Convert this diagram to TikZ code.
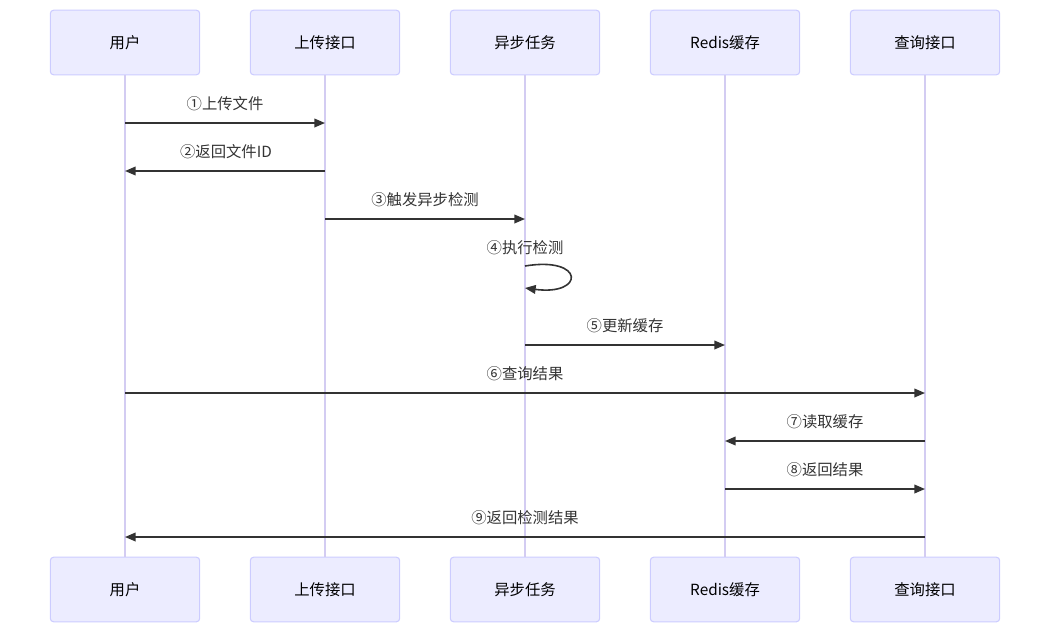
\documentclass[tikz,border=0pt]{standalone}
\usepackage{fontspec}
\setmainfont{Noto Sans CJK SC}
\usepackage{tikz}
\usetikzlibrary{
  arrows.meta,
  positioning,
  calc
}
\definecolor{actorfill}{HTML}{ECECFF}
\definecolor{actorline}{HTML}{CCCCFF}
\definecolor{lifeline}{HTML}{D3CCF2}
\definecolor{msgline}{HTML}{333333}

\begin{document}
\begin{tikzpicture}[
  x=0.75pt, y=-0.75pt,
  actor/.style={rectangle, draw=actorline, fill=actorfill, rounded corners=2.5pt, line width=0.8pt, minimum width=112pt, minimum height=48.5pt, font=\fontsize{11.5}{14}\selectfont},
  life/.style={draw=lifeline, line width=1pt},
  msg/.style={draw=msgline, line width=1.2pt, -{Triangle[length=8pt,width=6.5pt]}},
  lbl/.style={font=\fontsize{11.5}{14}\selectfont, text=msgline, inner sep=0pt},
]
\useasboundingbox (0,0) rectangle (1050,633);

% actors, top row
\node[actor] (user)   at (125,42.5) {用户};
\node[actor] (upload) at (325,42.5) {上传接口};
\node[actor] (task)   at (525,42.5) {异步任务};
\node[actor] (redis)  at (725,42.5) {Redis缓存};
\node[actor] (query)  at (925,42.5) {查询接口};

% actors, bottom row
\node[actor] (userB)   at (125,589.5) {用户};
\node[actor] (uploadB) at (325,589.5) {上传接口};
\node[actor] (taskB)   at (525,589.5) {异步任务};
\node[actor] (redisB)  at (725,589.5) {Redis缓存};
\node[actor] (queryB)  at (925,589.5) {查询接口};

% lifelines
\draw[life] (user) -- (userB);
\draw[life] (upload) -- (uploadB);
\draw[life] (task) -- (taskB);
\draw[life] (redis) -- (redisB);
\draw[life] (query) -- (queryB);

% messages
\draw[msg] (user |- 0,123) -- (upload |- 0,123);
\node[lbl] (m1) at (225,104) {①上传文件};
\draw[msg] (upload |- 0,171) -- (user |- 0,171);
\node[lbl] (m2) at (226,152) {②返回文件ID};
\draw[msg] (upload |- 0,219) -- (task |- 0,219);
\node[lbl] (m3) at (425,200) {③触发异步检测};
\node[lbl] (m4) at (525,248) {④执行检测};
\draw[msg] (task |- 0,266) .. controls (585,256) and (585,296) .. (task |- 0,288);
\draw[msg] (task |- 0,345) -- (redis |- 0,345);
\node[lbl] (m5) at (625,326) {⑤更新缓存};
\draw[msg] (user |- 0,393) -- (query |- 0,393);
\node[lbl] (m6) at (525,374) {⑥查询结果};
\draw[msg] (query |- 0,441) -- (redis |- 0,441);
\node[lbl] (m7) at (825,422) {⑦读取缓存};
\draw[msg] (redis |- 0,489) -- (query |- 0,489);
\node[lbl] (m8) at (825,470) {⑧返回结果};
\draw[msg] (query |- 0,537) -- (user |- 0,537);
\node[lbl] (m9) at (525,518) {⑨返回检测结果};
\end{tikzpicture}
\end{document}
